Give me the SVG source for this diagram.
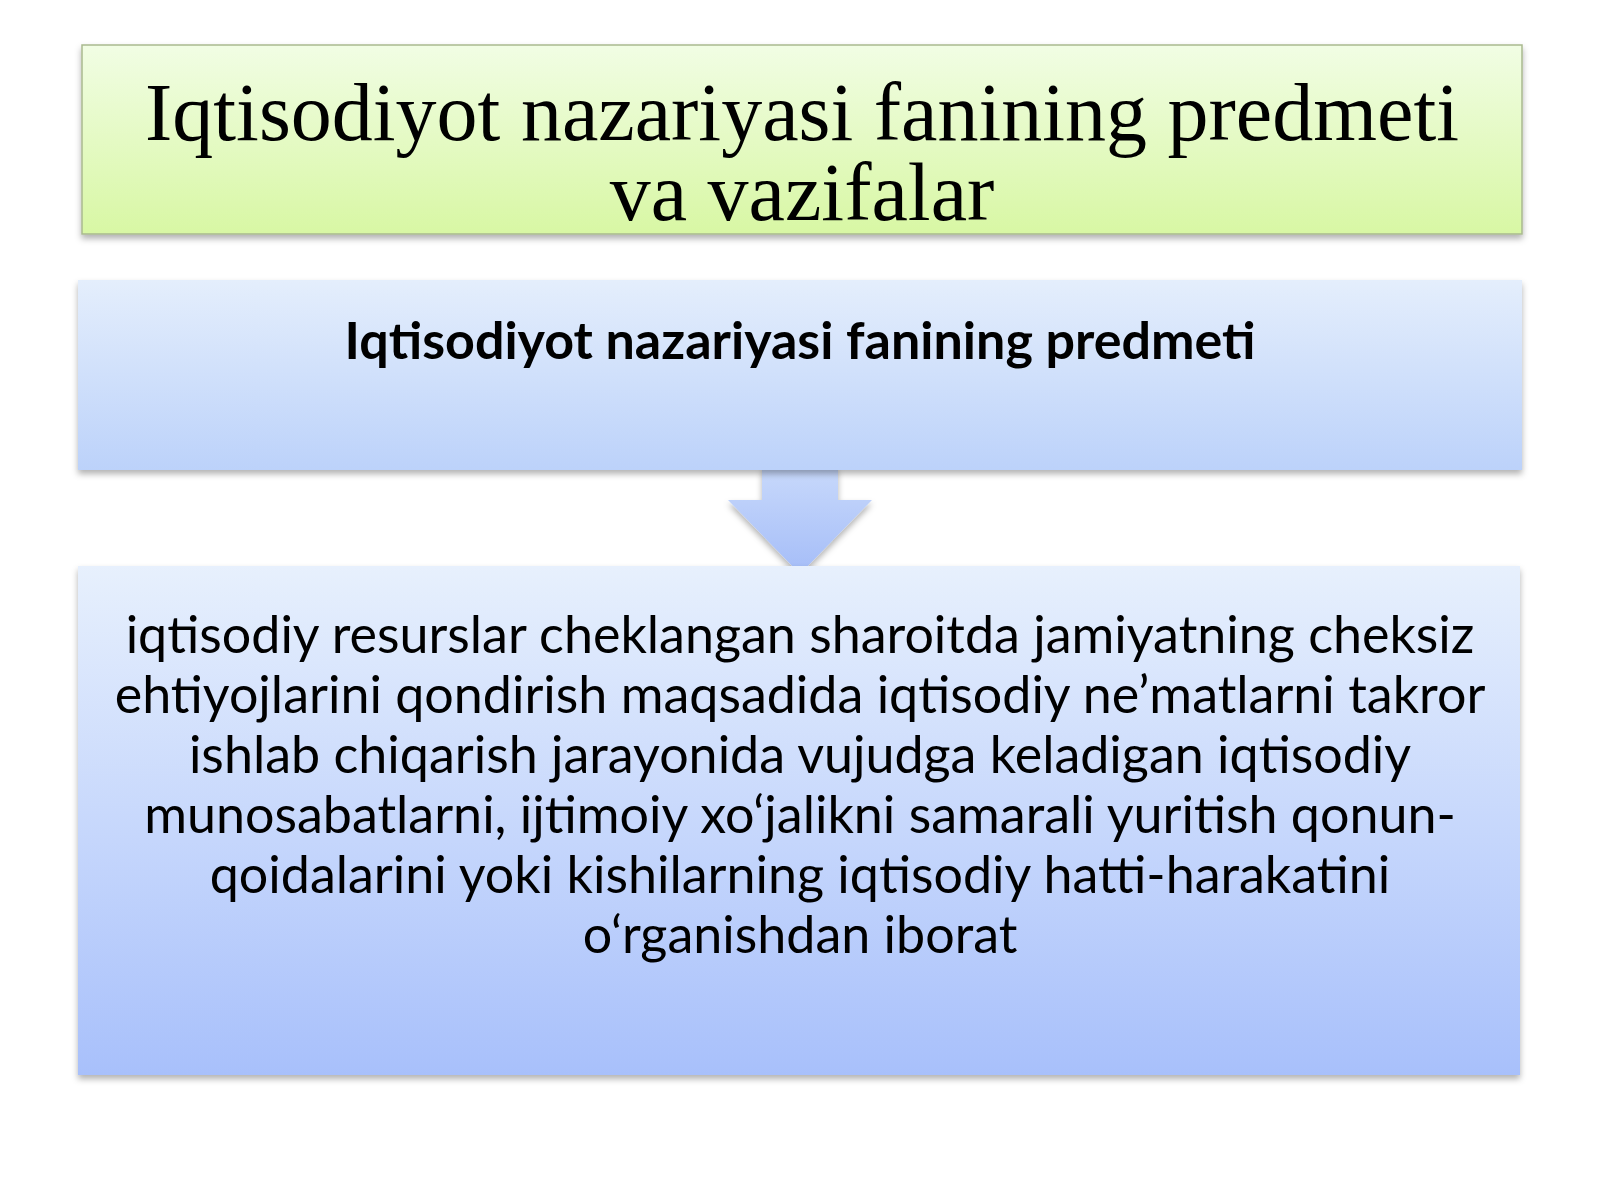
<svg xmlns="http://www.w3.org/2000/svg" width="1600" height="1200" viewBox="0 0 1600 1200">
  <defs>
    <linearGradient id="gGreen" x1="0" y1="0" x2="0" y2="1">
      <stop offset="0" stop-color="#f1fde4"/>
      <stop offset="1" stop-color="#d8f7a4"/>
    </linearGradient>
    <linearGradient id="gBlue1" x1="0" y1="0" x2="0" y2="1">
      <stop offset="0" stop-color="#e4eefc"/>
      <stop offset="1" stop-color="#bcd2fa"/>
    </linearGradient>
    <linearGradient id="gBlue2" x1="0" y1="0" x2="0" y2="1">
      <stop offset="0" stop-color="#e7f0fd"/>
      <stop offset="1" stop-color="#a8c0fb"/>
    </linearGradient>
    <linearGradient id="gArrow" x1="0" y1="0" x2="0" y2="1">
      <stop offset="0" stop-color="#c8d9fb"/>
      <stop offset="1" stop-color="#a5bdf8"/>
    </linearGradient>
    <filter id="shadow" x="-5%" y="-10%" width="110%" height="125%">
      <feDropShadow dx="0" dy="4" stdDeviation="3" flood-color="#000" flood-opacity="0.3"/>
    </filter>
  </defs>
  <style>
    .title { font-family: "Liberation Serif", "Times New Roman", serif; font-size: 82px; fill: #000; text-anchor: middle; }
    .sub { font-family: Lato, "Noto Sans", sans-serif; font-weight: bold; font-size: 52px; fill: #000; text-anchor: middle; }
    .body { font-family: Lato, "Noto Sans", sans-serif; font-size: 52px; fill: #000; text-anchor: middle; }
  </style>
  <rect width="1600" height="1200" fill="#ffffff"/>

  <g id="title-node">
    <rect x="82" y="45" width="1440" height="189" fill="url(#gGreen)" stroke="#a9b98f" stroke-width="1.5" filter="url(#shadow)"/>
    <text class="title" x="802" y="140">Iqtisodiyot nazariyasi fanining predmeti</text>
    <text class="title" x="802" y="220">va vazifalar</text>
  </g>

  <g id="connectors">
    <polygon points="762,466 838,466 838,500 872,500 800,574 728,500 762,500" fill="url(#gArrow)" filter="url(#shadow)"/>
  </g>

  <g id="subject-node">
    <rect x="78" y="280" width="1444" height="190" fill="url(#gBlue1)" filter="url(#shadow)"/>
    <text class="sub" x="800" y="359">Iqtisodiyot nazariyasi fanining predmeti</text>
  </g>

  <g id="definition-node">
    <rect x="78" y="566" width="1442" height="509" fill="url(#gBlue2)" filter="url(#shadow)"/>
    <text class="body" x="800" y="653">iqtisodiy resurslar cheklangan sharoitda jamiyatning cheksiz</text>
    <text class="body" x="800" y="713">ehtiyojlarini qondirish maqsadida iqtisodiy ne’matlarni takror</text>
    <text class="body" x="800" y="773">ishlab chiqarish jarayonida vujudga keladigan iqtisodiy</text>
    <text class="body" x="800" y="833">munosabatlarni, ijtimoiy xo‘jalikni samarali yuritish qonun-</text>
    <text class="body" x="800" y="893">qoidalarini yoki kishilarning iqtisodiy hatti-harakatini</text>
    <text class="body" x="800" y="953">o‘rganishdan iborat</text>
  </g>
</svg>
